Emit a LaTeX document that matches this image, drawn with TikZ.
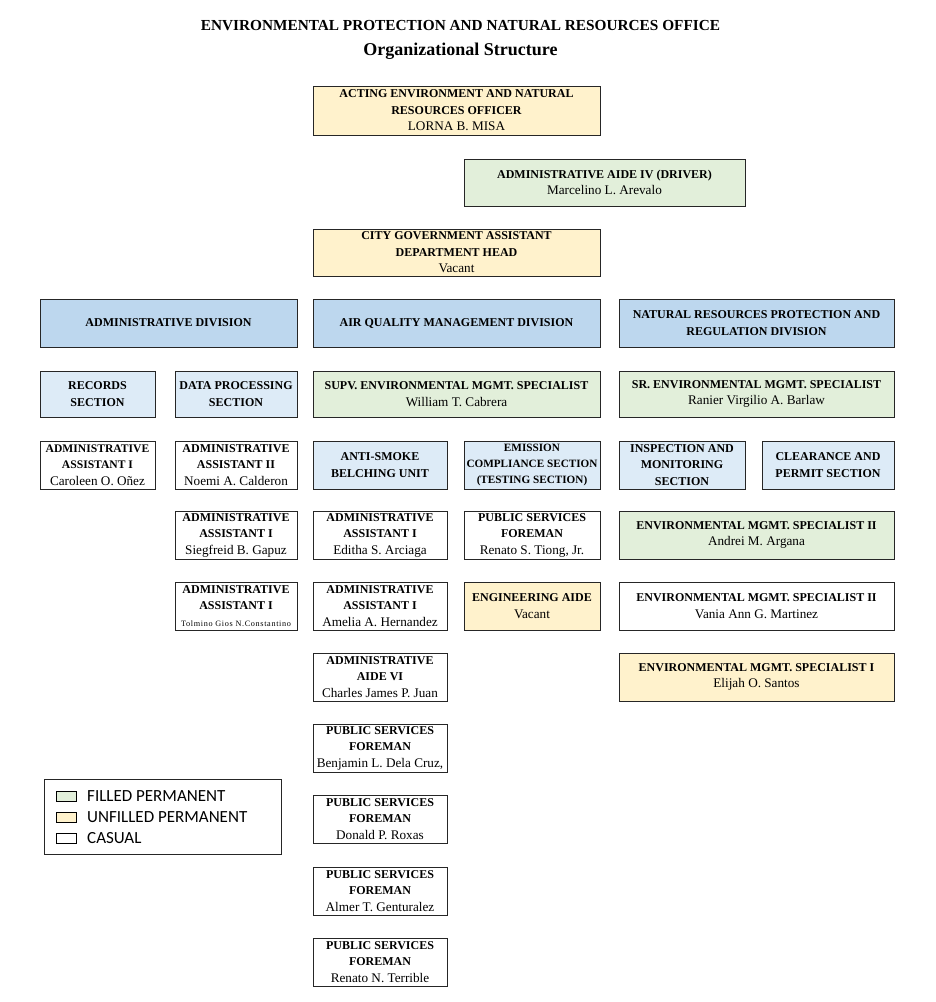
\documentclass[tikz,border=0pt]{standalone}
\usepackage{fontspec}
\setmainfont{Liberation Serif}
\newfontfamily\legendfont{Carlito}
\usetikzlibrary{shadows, positioning}

\definecolor{filledgreen}{HTML}{E2EFDA}
\definecolor{unfilledyellow}{HTML}{FFF2CC}
\definecolor{divblue}{HTML}{BDD7EE}
\definecolor{secblue}{HTML}{DDEBF7}

\newcommand{\staff}[1]{{\mdseries\fontsize{13.2}{16.5}\selectfont #1}}

\begin{document}
\begin{tikzpicture}[x=1pt, y=-1pt,
  box/.style={draw=black!85, line width=0.9pt, align=center, inner sep=0pt,
    minimum height=48, font=\bfseries\fontsize{12}{16.5}\selectfont,
    drop shadow={shadow xshift=1.2pt, shadow yshift=-1.2pt, opacity=0.25}},
  wd/.style={minimum width=#1},
  filled/.style={box, fill=filledgreen},
  unfilled/.style={box, fill=unfilledyellow},
  casual/.style={box, fill=white},
  division/.style={box, fill=divblue},
  section/.style={box, fill=secblue}]

\useasboundingbox[fill=white] (0,0) rectangle (936,1002);

% title
\node[font=\bfseries\fontsize{15.3}{18}\selectfont] (title) at (460.5,26)
{ENVIRONMENTAL PROTECTION AND NATURAL RESOURCES OFFICE};
\node[font=\bfseries\fontsize{18}{20}\selectfont, below=5pt of title] (subtitle)
{Organizational Structure};

% head of office
\node[unfilled, wd=287, minimum height=49] (officer) at (456.5,110.5)
{ACTING ENVIRONMENT AND NATURAL\\RESOURCES OFFICER\\\staff{LORNA B. MISA}};
\node[filled, wd=281, minimum height=47] (driver) at (604.5,182.5)
{ADMINISTRATIVE AIDE IV (DRIVER)\\\staff{Marcelino L. Arevalo}};
\node[unfilled, wd=287, minimum height=47] (asthead) at (456.5,252.5)
{CITY GOVERNMENT ASSISTANT\\DEPARTMENT HEAD\\\staff{Vacant}};

% divisions
\node[division, wd=257] (admdiv) at (168.5,323) {ADMINISTRATIVE DIVISION};
\node[division, wd=287] (airdiv) at (456.5,323) {AIR QUALITY MANAGEMENT DIVISION};
\node[division, wd=275] (nrdiv) at (756.5,323)
{NATURAL RESOURCES PROTECTION AND\\REGULATION DIVISION};

% sections and heads
\node[section, wd=115, minimum height=46] (records) at (97.5,394) {RECORDS\\SECTION};
\node[section, wd=122, minimum height=46] (dataproc) at (236,394) {DATA PROCESSING\\SECTION};
\node[filled, wd=287, minimum height=46] (supv) at (456.5,394)
{SUPV. ENVIRONMENTAL MGMT. SPECIALIST\\\staff{William T. Cabrera}};
\node[filled, wd=275, minimum height=46] (senior) at (756.5,394)
{SR. ENVIRONMENTAL MGMT. SPECIALIST\\\staff{Ranier Virgilio A. Barlaw}};

% administrative division
\node[casual, wd=115, font=\bfseries\fontsize{11.6}{16.5}\selectfont] (onez) at (97.5,465)
{ADMINISTRATIVE\\ASSISTANT I\\\staff{Caroleen O. Oñez}};
\node[casual, wd=122] (calderon) at (236,465)
{ADMINISTRATIVE\\ASSISTANT II\\\staff{Noemi A. Calderon}};
\node[casual, wd=122] (gapuz) at (236,535)
{ADMINISTRATIVE\\ASSISTANT I\\\staff{Siegfreid B. Gapuz}};
\node[casual, wd=122] (constantino) at (236,606)
{ADMINISTRATIVE\\ASSISTANT I\\{\mdseries\fontsize{8.2}{16}\selectfont\addfontfeature{LetterSpace=8}Tolmino Gios N.Constantino}};

% air quality management division
\node[section, wd=134] (antismoke) at (380,465) {ANTI-SMOKE\\BELCHING UNIT};
\node[section, wd=136, font=\bfseries\fontsize{11.2}{16}\selectfont] (emission) at (532,465)
{EMISSION\\COMPLIANCE SECTION\\(TESTING SECTION)};
\node[casual, wd=134] (arciaga) at (380,535)
{ADMINISTRATIVE\\ASSISTANT I\\\staff{Editha S. Arciaga}};
\node[casual, wd=134] (hernandez) at (380,606)
{ADMINISTRATIVE\\ASSISTANT I\\\staff{Amelia A. Hernandez}};
\node[casual, wd=134] (juan) at (380,677)
{ADMINISTRATIVE\\AIDE VI\\\staff{Charles James P. Juan}};
\node[casual, wd=134] (delacruz) at (380,748)
{PUBLIC SERVICES\\FOREMAN\\\staff{Benjamin L. Dela Cruz,}};
\node[casual, wd=134] (roxas) at (380,819)
{PUBLIC SERVICES\\FOREMAN\\\staff{Donald P. Roxas}};
\node[casual, wd=134] (genturalez) at (380,891)
{PUBLIC SERVICES\\FOREMAN\\\staff{Almer T. Genturalez}};
\node[casual, wd=134] (terrible) at (380,962)
{PUBLIC SERVICES\\FOREMAN\\\staff{Renato N. Terrible}};
\node[casual, wd=136] (tiong) at (532,535)
{PUBLIC SERVICES\\FOREMAN\\\staff{Renato S. Tiong, Jr.}};
\node[unfilled, wd=136] (engaide) at (532,606)
{ENGINEERING AIDE\\\staff{Vacant}};

% natural resources division
\node[section, wd=126] (inspection) at (682,465)
{INSPECTION AND\\MONITORING\\SECTION};
\node[section, wd=132] (clearance) at (828,465)
{CLEARANCE AND\\PERMIT SECTION};
\node[filled, wd=275] (argana) at (756.5,535)
{ENVIRONMENTAL MGMT. SPECIALIST II\\\staff{Andrei M. Argana}};
\node[casual, wd=275] (martinez) at (756.5,606)
{ENVIRONMENTAL MGMT. SPECIALIST II\\\staff{Vania Ann G. Martinez}};
\node[unfilled, wd=275] (santos) at (756.5,677)
{ENVIRONMENTAL MGMT. SPECIALIST I\\\staff{Elijah O. Santos}};

% legend
\draw[line width=0.9pt, draw=black!85] (44,779) rectangle (281,854);
\begin{scope}[every node/.style={anchor=west, inner sep=0pt,
    font=\legendfont\fontsize{17}{19}\selectfont}]
\draw[line width=0.8pt, fill=filledgreen] (56,791) rectangle (76,801);
\node (kfilled) at (87,796) {FILLED PERMANENT};
\draw[line width=0.8pt, fill=unfilledyellow] (56,812) rectangle (76,822);
\node (kunfilled) at (87,817) {UNFILLED PERMANENT};
\draw[line width=0.8pt, fill=white] (56,833) rectangle (76,843);
\node (kcasual) at (87,838) {CASUAL};
\end{scope}

\end{tikzpicture}
\end{document}
